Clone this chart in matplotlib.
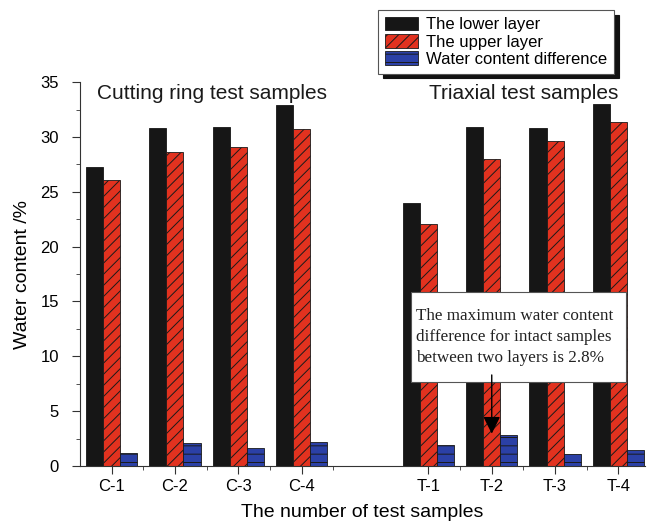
import numpy as np
import matplotlib
matplotlib.use("Agg")
import matplotlib.pyplot as plt
from matplotlib.patches import Rectangle
from matplotlib.ticker import MultipleLocator, FixedLocator

plt.rcParams['font.family'] = ['Liberation Sans', 'DejaVu Sans']
plt.rcParams['hatch.linewidth'] = 0.7

# 数据
samples = ["C-1", "C-2", "C-3", "C-4", "T-1", "T-2", "T-3", "T-4"]
lower_layer = [27.3, 30.8, 30.9, 32.9, 24.0, 30.9, 30.8, 33.0]
upper_layer = [26.1, 28.6, 29.1, 30.7, 22.1, 28.0, 29.6, 31.4]
difference = [1.2, 2.1, 1.6, 2.2, 1.9, 2.8, 1.1, 1.5]
positions = [0, 1, 2, 3, 5, 6, 7, 8]

fig = plt.figure(figsize=(6.49, 5.23), dpi=100)
ax = fig.add_axes([0.123, 0.109, 0.871, 0.734])

x = np.array(positions)
w = 0.27
ax.bar(x - w, lower_layer, w, color="#161616", edgecolor="#161616", linewidth=0.6,
       label="The lower layer")
ax.bar(x, upper_layer, w, color="#e2321f", edgecolor="#1a1a1a", linewidth=0.6,
       hatch="///", label="The upper layer")
ax.bar(x + w, difference, w, color="#2b40a6", edgecolor="#1a1a1a", linewidth=0.6,
       hatch="--", label="Water content difference")

ax.set_xlim(-0.5, 8.42)
ax.set_ylim(0, 35)
ax.set_xticks(positions)
ax.set_xticklabels(samples)
ax.xaxis.set_minor_locator(FixedLocator([0.5, 1.5, 2.5, 3.5, 5.5, 6.5, 7.5]))
ax.yaxis.set_major_locator(MultipleLocator(5))
ax.yaxis.set_minor_locator(MultipleLocator(2.5))
ax.tick_params(axis="both", which="major", direction="out", length=6, labelsize=12,
               color="#333333")
ax.tick_params(axis="y", which="major", pad=9)
ax.tick_params(axis="both", which="minor", direction="out", length=3, color="#333333")
for s in ["top", "right"]:
    ax.spines[s].set_visible(False)
for s in ["left", "bottom"]:
    ax.spines[s].set_color("#333333")

ax.set_ylabel("Water content /%", fontsize=14, labelpad=7)
ax.set_xlabel("The number of test samples", fontsize=14, labelpad=7)

ax.text(1.59, 34.0, "Cutting ring test samples", fontsize=15, ha="center", va="center",
        color="#1a1a1a")
ax.text(6.5, 34.0, "Triaxial test samples", fontsize=15, ha="center", va="center",
        color="#1a1a1a")

# 注释框和箭头
ax.add_patch(Rectangle((4.72, 7.66), 3.40, 8.2, fc="white", ec="#555555", lw=0.8,
                       zorder=4))
ax.text(4.80, 11.76,
        "The maximum water content\ndifference for intact samples\nbetween two layers is 2.8%",
        fontsize=12.3, family=["Liberation Serif", "DejaVu Serif"], color="#222222",
        ha="left", va="center", linespacing=1.45, zorder=5)
ax.annotate("", xy=(6.0, 2.95), xytext=(6.0, 8.3),
            arrowprops=dict(arrowstyle="-|>", color="black", lw=1.0, mutation_scale=26,
                            shrinkA=0, shrinkB=0), zorder=5)

leg = fig.legend(loc="upper left", bbox_to_anchor=(0.5825, 0.981), fontsize=12,
                 frameon=True, fancybox=False, handlelength=2.0, handleheight=0.9,
                 borderpad=0.4, labelspacing=0.1, handletextpad=0.5, borderaxespad=0,
                 shadow={"color": "#111111", "alpha": 1.0, "ox": 3.5, "oy": -3.5})
leg.get_frame().set_edgecolor("#555555")
leg.get_frame().set_linewidth(0.8)

fig.savefig("out.png", dpi=100)
